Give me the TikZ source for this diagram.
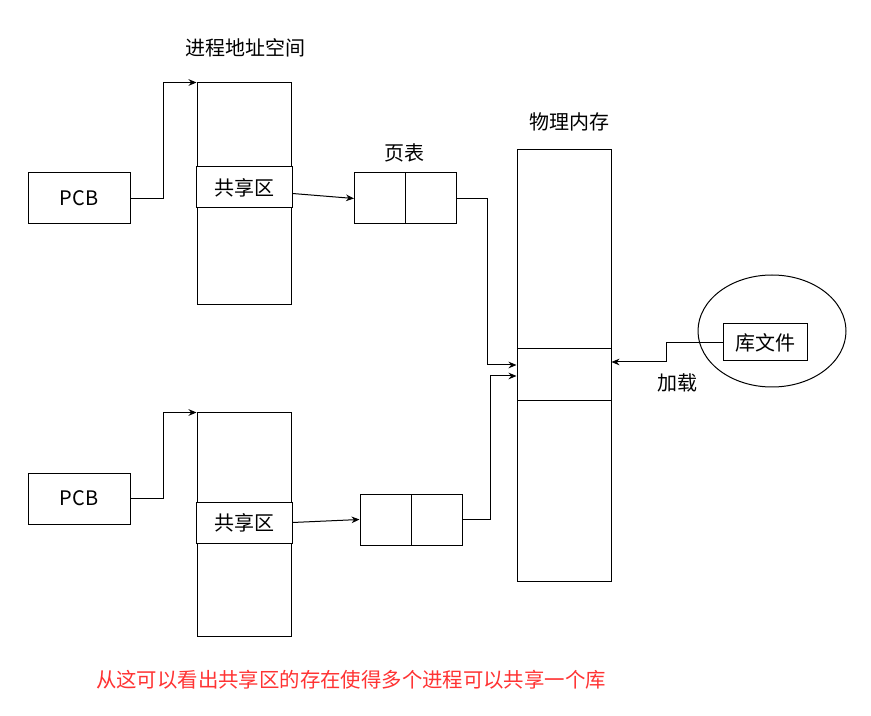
\documentclass[tikz,border=0pt]{standalone}
\usepackage{fontspec}
\setmainfont{Noto Sans CJK SC}
\usetikzlibrary{arrows.meta,shapes.geometric}
\definecolor{notered}{RGB}{255,51,51}
\tikzset{
  box/.style={draw, line width=0.75pt, fill=white, inner sep=0pt},
  arr/.style={draw, line width=0.75pt, -{Stealth[length=6pt,width=5pt]}},
  lbl/.style={font=\fontsize{15}{18}\selectfont, inner sep=0pt}
}
\begin{document}
\begin{tikzpicture}[x=0.75pt, y=-0.75pt]
    \useasboundingbox (0,0) rectangle (871,716);
    % top process
    \node[lbl] (titleA) at (245,48) {进程地址空间};
    \node[box, minimum width=70.5pt, minimum height=166.5pt] (procA) at (244,194) {};
    \node[box, lbl, minimum width=72pt, minimum height=30.75pt] (shareA) at (244,187.5) {共享区};
    \node[box, lbl, minimum width=76.5pt, minimum height=38.25pt] (pcbA) at (79,198.5) {PCB};
    \node[lbl] (ptlbl) at (404,153) {页表};
    \node[box, minimum width=38.25pt, minimum height=38.25pt] (ptA1) at (380,198.5) {};
    \node[box, minimum width=38.25pt, minimum height=38.25pt] (ptA2) at (431,198.5) {};
    % bottom process
    \node[box, minimum width=70.5pt, minimum height=167.25pt] (procB) at (244,524.5) {};
    \node[box, lbl, minimum width=72pt, minimum height=30.75pt] (shareB) at (244,522.5) {共享区};
    \node[box, lbl, minimum width=76.5pt, minimum height=38.25pt] (pcbB) at (79,498.5) {PCB};
    \node[box, minimum width=38.25pt, minimum height=38.25pt] (ptB1) at (385.5,519.5) {};
    \node[box, minimum width=38.25pt, minimum height=38.25pt] (ptB2) at (436.5,519.5) {};
    % physical memory
    \node[lbl] (memlbl) at (569,122) {物理内存};
    \node[box, minimum width=70.5pt, minimum height=323.25pt] (mem) at (564,365.5) {};
    \node[box, minimum width=70.5pt, minimum height=39pt] (memReg) at (564,375) {};
    % library file
    \node[draw, line width=0.75pt, ellipse, minimum width=111pt, minimum height=84pt] (libEll) at (772,331) {};
    \node[box, lbl, minimum width=63pt, minimum height=27.75pt] (lib) at (765,342.5) {库文件};
    \node[lbl] (loadlbl) at (677,383) {加载};
    % connectors
    \draw[arr] (pcbA.east) -- ++(33,0) |- (procA.north west);
    \draw[arr] (pcbB.east) -- ++(33,0) |- (procB.north west);
    \draw[arr] ([yshift=-4.5pt]shareA.east) -- (ptA1.west);
    \draw[arr] (shareB.east) -- (ptB1.west);
    \draw[arr] (ptA2.east) -- ++(30,0) |- ([yshift=7.5pt]memReg.west);
    \draw[arr] (ptB2.east) -- ++(28,0) |- ([yshift=-0.75pt]memReg.west);
    \draw[arr] (lib.west) -- ++(-56,0) |- ([yshift=9.75pt]memReg.east);
    % note
    \node[lbl, font=\fontsize{15.3}{18}\selectfont, text=notered] (note) at (351,680) {从这可以看出共享区的存在使得多个进程可以共享一个库};
\end{tikzpicture}
\end{document}
